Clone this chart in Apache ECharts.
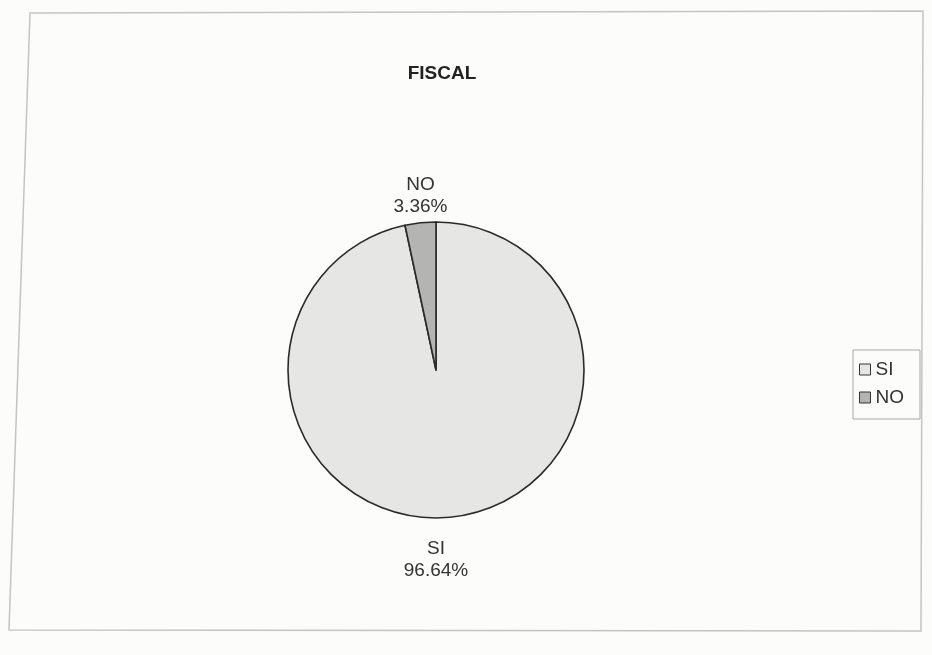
<!DOCTYPE html>
<html>
<head>
<meta charset="utf-8">
<script src="https://cdn.jsdelivr.net/npm/echarts@6/dist/echarts.min.js"></script>
<style>
html,body{margin:0;padding:0;background:#fcfcfa;}
#main{width:932px;height:655px;}
</style>
</head>
<body>
<div id="main"></div>
<script>
const categories = ['SI', 'NO'];
const values = [96.64, 3.36];
const colors = ['#e6e6e4', '#b4b4b2'];
const title = 'FISCAL';

const chart = echarts.init(document.getElementById('main'));
const data = categories.map((c, i) => ({
  name: c, value: values[i], itemStyle: { color: colors[i] }
}));
chart.setOption({
  backgroundColor: '#fcfcfa',
  animation: false,
  graphic: [{
    type: 'polygon',
    shape: { points: [[30, 13], [923, 11], [921, 631], [9, 630]] },
    style: { fill: 'none', stroke: '#c4c4c4', lineWidth: 1.5 },
    silent: true
  }],
  title: {
    text: title, left: 437, top: 59, textAlign: 'center',
    textStyle: { fontFamily: 'Liberation Sans', fontSize: 19, fontWeight: 'bold', color: '#222' }
  },
  legend: {
    orient: 'vertical', left: 853, top: 350,
    data: categories,
    icon: 'rect', itemWidth: 11, itemHeight: 11, itemGap: 9,
    padding: [10, 16, 12, 6],
    borderColor: '#a8a8a8', borderWidth: 1,
    itemStyle: { borderColor: '#333', borderWidth: 1 },
    textStyle: { fontFamily: 'Liberation Sans', fontSize: 19, color: '#333' }
  },
  series: [{
    type: 'pie',
    center: [436, 370],
    radius: 148,
    startAngle: 90,
    clockwise: true,
    data: data,
    itemStyle: { borderColor: '#2a2a2a', borderWidth: 1.6 },
    label: {
      show: true, position: 'outside',
      formatter: '{b}\n{d}%',
      fontFamily: 'Liberation Sans', fontSize: 19, color: '#333', lineHeight: 22
    },
    labelLine: { show: false },
    labelLayout: function (p) {
      const r = p.rect;
      const cx = r.x + r.width / 2;
      if (p.dataIndex === 1) {
        return { x: cx, y: r.y - 3, align: 'center', verticalAlign: 'bottom' };
      }
      return { x: cx, y: r.y + r.height + 19, align: 'center', verticalAlign: 'top' };
    },
    emphasis: { disabled: true }
  }]
});
</script>
</body>
</html>
